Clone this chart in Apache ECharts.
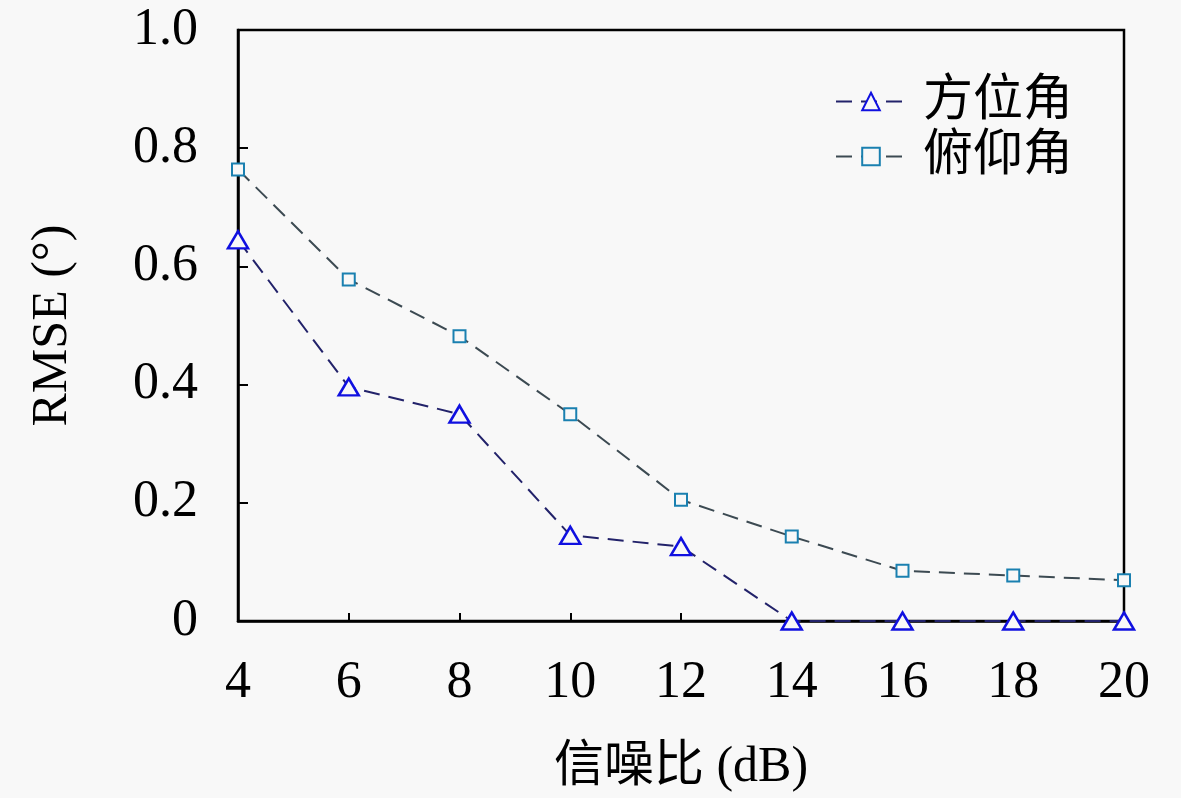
<!DOCTYPE html>
<html>
<head>
<meta charset="utf-8">
<script src="https://cdn.jsdelivr.net/npm/echarts@6/dist/echarts.min.js"></script>
<style>
html,body{margin:0;padding:0;background:#f8f8f8;}
#main{width:1181px;height:798px;}
</style>
</head>
<body>
<div id="main"></div>
<script>
const snr = [4, 6, 8, 10, 12, 14, 16, 18, 20];
const azimuth = [0.645, 0.396, 0.350, 0.145, 0.126, 0, 0, 0, 0];
const elevation = [0.764, 0.578, 0.482, 0.350, 0.205, 0.143, 0.085, 0.077, 0.069];
const seriesNames = ['方位角', '俯仰角'];
const xName = '信噪比 (dB)';
const yName = 'RMSE (°)';

const FONT = "'Liberation Serif', 'Noto Sans CJK SC', serif";
const pairs = (ys) => snr.map((x, i) => [x, ys[i]]);

const chart = echarts.init(document.getElementById('main'), null, {renderer: 'canvas'});
chart.setOption({
  backgroundColor: '#f8f8f8',
  animation: false,
  textStyle: {fontFamily: FONT, color: '#000'},
  grid: {left: 238, right: 57, top: 30, bottom: 177, show: true, borderColor: '#000', borderWidth: 2.5, backgroundColor: 'transparent'},
  legend: {
    orient: 'vertical',
    left: 830,
    top: 70,
    itemWidth: 70,
    itemHeight: 22,
    itemGap: 2,
    textStyle: {fontFamily: FONT, fontSize: 50, color: '#000', lineHeight: 53, padding: [0, 0, 0, 12]},
    data: seriesNames
  },
  xAxis: {
    type: 'value',
    min: 4, max: 20, interval: 2,
    name: xName,
    nameLocation: 'middle',
    nameGap: 122,
    nameTextStyle: {fontFamily: FONT, fontSize: 50, color: '#000'},
    axisLine: {lineStyle: {color: '#000', width: 2.5}},
    axisTick: {inside: true, length: 8, lineStyle: {color: '#000', width: 2}},
    axisLabel: {fontFamily: FONT, fontSize: 52, color: '#000', margin: 36},
    splitLine: {show: false}
  },
  yAxis: {
    type: 'value',
    min: 0, max: 1, interval: 0.2,
    name: yName,
    nameLocation: 'middle',
    nameGap: 160,
    nameTextStyle: {fontFamily: FONT, fontSize: 50, color: '#000'},
    axisLine: {lineStyle: {color: '#000', width: 2.5}},
    axisTick: {inside: true, length: 10, lineStyle: {color: '#000', width: 2}},
    axisLabel: {fontFamily: FONT, fontSize: 52, color: '#000', margin: 40,
      formatter: v => v === 0 ? '0' : v.toFixed(1)},
    splitLine: {show: false}
  },
  series: [
    {
      name: seriesNames[0],
      type: 'line',
      data: pairs(azimuth),
      symbol: 'triangle',
      symbolSize: [20, 17],
      lineStyle: {color: '#22226a', width: 2, type: [16, 9]},
      itemStyle: {color: '#f8f8f8', borderColor: '#1010e0', borderWidth: 2.5},
      z: 3
    },
    {
      name: seriesNames[1],
      type: 'line',
      data: pairs(elevation),
      symbol: 'rect',
      symbolSize: 12,
      lineStyle: {color: '#3c4a52', width: 2, type: [16, 9]},
      itemStyle: {color: '#f8f8f8', borderColor: '#1a80b0', borderWidth: 2},
      z: 2
    }
  ]
});
</script>
</body>
</html>
